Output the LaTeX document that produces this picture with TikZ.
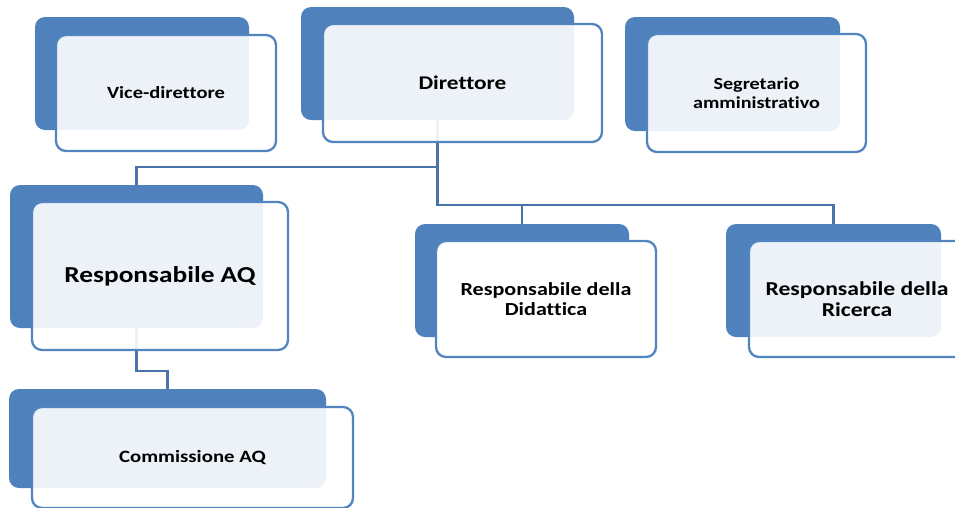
\documentclass[tikz,border=0pt]{standalone}
\usepackage{fontspec}
\newfontfamily\lab{Carlito}[FakeStretch=1.2, Ligatures=NoCommon]
\definecolor{backblue}{HTML}{4F81BD}
\definecolor{edgeblue}{HTML}{5284C0}
\definecolor{connblue}{HTML}{4A73AB}
\tikzset{
  backbox/.style={rectangle, rounded corners=10pt, fill=backblue, draw=none, inner sep=0pt},
  frontbox/.style={rectangle, rounded corners=10pt, fill=white, fill opacity=0.9, text opacity=1, draw=edgeblue, draw opacity=1, line width=2.3pt, inner sep=0pt, align=center},
  conn/.style={draw=connblue, line width=2.6pt}
}
\begin{document}
\begin{tikzpicture}[x=1pt,y=-1pt]
\useasboundingbox (0,0) rectangle (955,507);
% back boxes
\node[backbox, minimum width=214pt, minimum height=113pt] (vb) at (142,73.5) {};
\node[backbox, minimum width=273pt, minimum height=113pt] (db) at (437.5,63.5) {};
\node[backbox, minimum width=215pt, minimum height=114pt] (sb) at (732.5,74) {};
\node[backbox, minimum width=253pt, minimum height=143pt] (rb) at (136.5,256.5) {};
\node[backbox, minimum width=214pt, minimum height=113pt] (didb) at (522,280.5) {};
\node[backbox, minimum width=215pt, minimum height=113pt] (ricb) at (833.5,280.5) {};
\node[backbox, minimum width=317pt, minimum height=99pt] (cb) at (167.5,438.5) {};
% connectors
\draw[conn] (db.south) |- ([yshift=18pt]rb.north) -- (rb.north);
\draw[conn] (db.south) |- ([yshift=19pt]ricb.north) -- (ricb.north);
\draw[conn] ([yshift=19pt]didb.north) -- (didb.north);
\draw[conn] (rb.south) |- ([yshift=18pt]cb.north) -- (cb.north);
% front boxes
\node[frontbox, font=\lab\bfseries\fontsize{17.1pt}{20pt}\selectfont, minimum width=220pt, minimum height=116pt] (v) at (166,93) {Vice-direttore};
\node[frontbox, font=\lab\bfseries\fontsize{19.4pt}{22pt}\selectfont, minimum width=279pt, minimum height=118pt] (d) at (462.5,83) {Direttore};
\node[frontbox, font=\lab\bfseries\fontsize{16.8pt}{19pt}\selectfont, minimum width=219pt, minimum height=118pt] (s) at (756.5,93) {Segretario\\amministrativo};
\node[frontbox, font=\lab\bfseries\fontsize{22.8pt}{26pt}\selectfont, minimum width=256pt, minimum height=148pt] (r) at (160,276) {Responsabile AQ};
\node[frontbox, fill opacity=1, font=\lab\bfseries\fontsize{18.4pt}{20pt}\selectfont, minimum width=220pt, minimum height=116pt] (did) at (546,299) {Responsabile della\\Didattica};
\node[frontbox, font=\lab\bfseries\fontsize{19.7pt}{21pt}\selectfont, minimum width=216pt, minimum height=116pt] (ric) at (857,299) {Responsabile della\\Ricerca};
\node[frontbox, font=\lab\bfseries\fontsize{17.3pt}{20pt}\selectfont, minimum width=321pt, minimum height=101pt] (c) at (192.5,457.5) {Commissione AQ};
\end{tikzpicture}
\end{document}
